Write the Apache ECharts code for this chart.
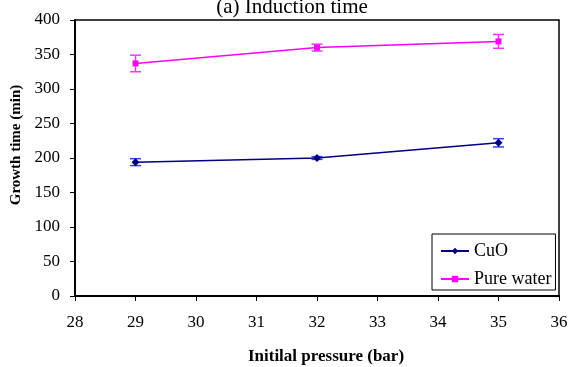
<!DOCTYPE html>
<html><head><meta charset="utf-8">
<script src="https://cdn.jsdelivr.net/npm/echarts@6/dist/echarts.min.js"></script>
<style>html,body{margin:0;padding:0;background:#fff}#c{width:570px;height:367px}</style>
</head><body><div id="c"></div>
<script>
const pressures = [29, 32, 35];
const cuoValues = [194, 200, 222];
const cuoErrors = [5, 2, 6];
const waterValues = [337, 360, 369];
const waterErrors = [12, 5, 10];
const xTicks = [28, 29, 30, 31, 32, 33, 34, 35, 36];
const yTicks = [0, 50, 100, 150, 200, 250, 300, 350, 400];

const FONT = '"Liberation Serif", "Times New Roman", serif';
const chart = echarts.init(document.getElementById('c'), null, {renderer: 'canvas'});

function errSeries(name, vals, errs, color) {
  return {
    type: 'custom', name: name + ' err', silent: true, z: 1,
    data: pressures.map((p, i) => [p, vals[i] - errs[i], vals[i] + errs[i]]),
    renderItem: function (params, api) {
      const x = api.value(0);
      const lo = api.coord([x, api.value(1)]);
      const hi = api.coord([x, api.value(2)]);
      const w = 5.5;
      const st = {stroke: color, lineWidth: 1.5};
      return {type: 'group', children: [
        {type: 'line', shape: {x1: lo[0], y1: lo[1], x2: hi[0], y2: hi[1]}, style: st},
        {type: 'line', shape: {x1: lo[0] - w, y1: lo[1], x2: lo[0] + w, y2: lo[1]}, style: st},
        {type: 'line', shape: {x1: hi[0] - w, y1: hi[1], x2: hi[0] + w, y2: hi[1]}, style: st}
      ]};
    }
  };
}

chart.setOption({
  animation: false,
  title: {
    text: '(a) Induction time', left: 287, top: -8, textAlign: 'center',
    textStyle: {fontFamily: FONT, fontSize: 21, fontWeight: 'normal', color: '#000'}
  },
  grid: {left: 75, right: 11, top: 20, bottom: 71, show: true, borderColor: '#000', borderWidth: 1.5,
         containLabel: false, outerBoundsMode: 'none'},
  legend: {
    left: 432, top: 234, orient: 'vertical', itemGap: 10, itemWidth: 28, itemHeight: 8,
    borderColor: '#000', borderWidth: 1, padding: [8, 4, 2, 8],
    backgroundColor: '#fff',
    data: ['CuO', 'Pure water'],
    textStyle: {fontFamily: FONT, fontSize: 18, lineHeight: 18, color: '#000'}
  },
  xAxis: {
    type: 'value', min: xTicks[0], max: xTicks[xTicks.length - 1], interval: 1,
    name: 'Initilal pressure (bar)', nameLocation: 'middle', nameGap: 52,
    nameTextStyle: {fontFamily: FONT, fontSize: 17, fontWeight: 'bold', color: '#000', padding: [0, 0, 0, 18]},
    axisLine: {onZero: false, lineStyle: {color: '#000', width: 2}},
    axisTick: {show: true, inside: false, length: 5, lineStyle: {color: '#000'}},
    axisLabel: {fontFamily: FONT, fontSize: 17, color: '#000', margin: 18},
    splitLine: {show: false}
  },
  yAxis: {
    type: 'value', min: yTicks[0], max: yTicks[yTicks.length - 1], interval: 50,
    name: 'Growth time (min)', nameLocation: 'middle', nameGap: 48, nameRotate: 90,
    nameTextStyle: {fontFamily: FONT, fontSize: 15, fontWeight: 'bold', color: '#000', padding: [0, 0, 0, 26]},
    axisLine: {show: true, lineStyle: {color: '#000', width: 2}},
    axisTick: {show: true, inside: false, length: 5, lineStyle: {color: '#000'}},
    axisLabel: {fontFamily: FONT, fontSize: 17, color: '#000', margin: 15},
    splitLine: {show: false}
  },
  series: [
    errSeries('CuO', cuoValues, cuoErrors, '#3344ee'),
    errSeries('Pure water', waterValues, waterErrors, '#ff33ff'),
    {
      type: 'line', name: 'CuO', z: 3,
      data: pressures.map((p, i) => [p, cuoValues[i]]),
      symbol: 'diamond', symbolSize: 8,
      lineStyle: {color: '#000080', width: 1.5},
      itemStyle: {color: '#000080'}
    },
    {
      type: 'line', name: 'Pure water', z: 3,
      data: pressures.map((p, i) => [p, waterValues[i]]),
      symbol: 'rect', symbolSize: 6,
      lineStyle: {color: '#ff00ff', width: 1.5},
      itemStyle: {color: '#ff00ff'}
    }
  ]
});
</script>
</body></html>
